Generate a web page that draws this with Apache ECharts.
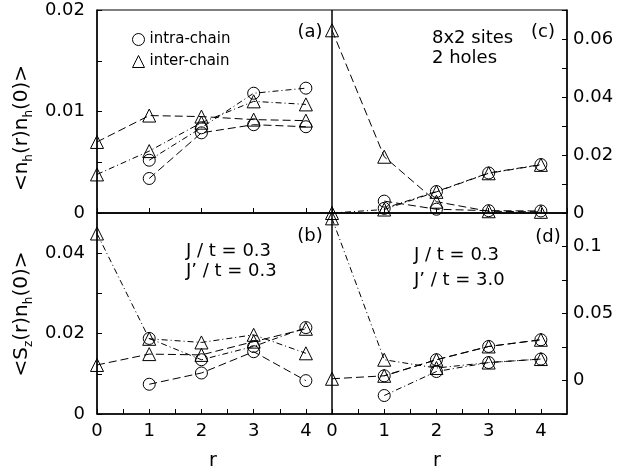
<!DOCTYPE html>
<html>
<head>
<meta charset="utf-8">
<script src="https://cdn.jsdelivr.net/npm/echarts@6/dist/echarts.min.js"></script>
<style>html,body{margin:0;padding:0;background:#fff;}#c{width:620px;height:472px;}</style>
</head>
<body>
<div id="c"></div>
<script>
// ---- data ----
const rVals = [0, 1, 2, 3, 4];
const xTickLabels = ['0', '1', '2', '3', '4'];
// panel (a): <n_h(r) n_h(0)>, J'/t = 0.3
const aInterA = [0.0070, 0.0096, 0.0095, 0.0092, 0.0091];
const aInterB = [0.0038, 0.0061, 0.0089, 0.0110, 0.0107];
const aIntraA = [null, 0.0034, 0.0079, 0.0087, 0.0085];
const aIntraB = [null, 0.0052, 0.0084, 0.0118, 0.0123];
// panel (b): <S_z(r) n_h(0)>, J'/t = 0.3
const bInterA = [0.0449, 0.0187, 0.0178, 0.0197, 0.0151];
const bIntraA = [null, 0.0188, 0.0135, 0.0168, 0.0215];
const bInterB = [0.0122, 0.0149, 0.0147, 0.0180, 0.0212];
const bIntraB = [null, 0.0074, 0.0102, 0.0155, 0.0083];
// panel (c): <n_h(r) n_h(0)>, J'/t = 3.0
const cInterA = [0.0630, 0.0194, 0.0039, 0.0006, 0.0004];
const cIntraA = [null, 0.0041, 0.0013, 0.0008, 0.0007];
const cInterB = [0.0000, 0.0012, 0.0073, 0.0137, 0.0166];
const cIntraB = [null, 0.0016, 0.0074, 0.0138, 0.0167];
// panel (d): <S_z(r) n_h(0)>, J'/t = 3.0
const dInterA = [0.1210, 0.0155, 0.0093, 0.0134, 0.0160];
const dIntraA = [null, -0.0112, 0.0067, 0.0134, 0.0160];
const dInterB = [0.0013, 0.0035, 0.0155, 0.0254, 0.0304];
const dIntraB = [null, 0.0035, 0.0155, 0.0254, 0.0304];

const FONT = 'DejaVu Sans';
const LONG_DASH = [8, 4];
const DASH_DOT = [6, 3, 1, 3];

function pts(arr) {
  const out = [];
  rVals.forEach((r, i) => { if (arr[i] !== null) out.push([r, arr[i]]); });
  return out;
}
function ser(name, arr, grid, dash, offset) {
  return {
    type: 'line', name: name, xAxisIndex: grid, yAxisIndex: grid,
    data: pts(arr),
    symbol: name === 'intra-chain' ? 'circle' : 'triangle',
    symbolSize: name === 'intra-chain' ? 12 : 13,
    itemStyle: { color: 'transparent', borderColor: '#000', borderWidth: 1 },
    lineStyle: { color: '#000', width: 1, type: dash, dashOffset: offset || 0 },
    emphasis: { disabled: true },
    animation: false
  };
}
function isMult(v, step) {
  const q = v / step;
  return Math.abs(q - Math.round(q)) < 1e-6;
}
function yFmt(step) {
  return function (v) {
    if (!isMult(v, step)) return '';
    if (Math.abs(v) < 1e-9) return '0';
    return String(+v.toFixed(3));
  };
}
function xAxis(grid, showLabels, interval) {
  return {
    type: 'value', gridIndex: grid, min: 0, max: 4.5, interval: interval,
    axisLine: { show: true, onZero: false, lineStyle: { color: '#000', width: 1.5 } },
    axisTick: { show: true, inside: true, length: 5, lineStyle: { color: '#000' } },
    splitLine: { show: false },
    axisLabel: {
      show: showLabels, margin: 8, fontFamily: FONT, fontSize: 18, color: '#000',
      formatter: function (v) { return isMult(v, 1) ? xTickLabels[Math.round(v)] : ''; },
      showMaxLabel: false
    }
  };
}
function yAxis(grid, pos, min, max, interval, labelStep, margin) {
  return {
    type: 'value', gridIndex: grid, position: pos, min: min, max: max, interval: interval,
    axisLine: { show: true, onZero: false, lineStyle: { color: '#000', width: 1.5 } },
    axisTick: { show: true, inside: true, length: 5, lineStyle: { color: '#000' } },
    splitLine: { show: false },
    axisLabel: { margin: margin, fontFamily: FONT, fontSize: 18, color: '#000', formatter: yFmt(labelStep) }
  };
}

const gridStyle = { show: true, borderColor: '#000', borderWidth: 1, containLabel: false };
const option = {
  backgroundColor: '#fff',
  animation: false,
  grid: [
    Object.assign({ left: 97, top: 10, width: 235, height: 203 }, gridStyle),
    Object.assign({ left: 97, top: 213, width: 235, height: 201 }, gridStyle),
    Object.assign({ left: 332, top: 10, width: 235, height: 203 }, gridStyle),
    Object.assign({ left: 332, top: 213, width: 235, height: 201 }, gridStyle)
  ],
  xAxis: [
    xAxis(0, false, 1),
    Object.assign(xAxis(1, true, 0.5), { name: 'r', nameLocation: 'middle', nameGap: 38,
      nameTextStyle: { fontFamily: FONT, fontSize: 19, color: '#000', padding: [0, 3, 0, 0] } }),
    xAxis(2, false, 1),
    Object.assign(xAxis(3, true, 0.5), { name: 'r', nameLocation: 'middle', nameGap: 38,
      nameTextStyle: { fontFamily: FONT, fontSize: 19, color: '#000', padding: [0, 25, 0, 0] } })
  ],
  yAxis: [
    yAxis(0, 'left', 0, 0.02, 0.005, 0.01, 12),
    yAxis(1, 'left', 0, 0.05, 0.01, 0.02, 12),
    yAxis(2, 'right', 0, 0.07, 0.01, 0.02, 6),
    yAxis(3, 'right', -0.025, 0.125, 0.025, 0.05, 6)
  ],
  legend: {
    orient: 'vertical', left: 132, top: 32, padding: 0, itemWidth: 12, itemHeight: 12, itemGap: 7,
    selectedMode: false,
    textStyle: { fontFamily: FONT, fontSize: 15, color: '#000' },
    itemStyle: { color: 'transparent', borderColor: '#000', borderWidth: 1 },
    data: [{ name: 'intra-chain', icon: 'circle' }, { name: 'inter-chain', icon: 'triangle' }]
  },
  graphic: [
    { type: 'text', x: 310, y: 32, style: { text: '(a)', font: '18px "DejaVu Sans"', fill: '#000', align: 'center', verticalAlign: 'middle' } },
    { type: 'text', x: 310, y: 236, style: { text: '(b)', font: '18px "DejaVu Sans"', fill: '#000', align: 'center', verticalAlign: 'middle' } },
    { type: 'text', x: 543, y: 32, style: { text: '(c)', font: '18px "DejaVu Sans"', fill: '#000', align: 'center', verticalAlign: 'middle' } },
    { type: 'text', x: 548, y: 237, style: { text: '(d)', font: '18px "DejaVu Sans"', fill: '#000', align: 'center', verticalAlign: 'middle' } },
    { type: 'text', x: 432, y: 38, style: { text: '8x2 sites', font: '18px "DejaVu Sans"', fill: '#000', align: 'left', verticalAlign: 'middle' } },
    { type: 'text', x: 432, y: 58, style: { text: '2 holes', font: '18px "DejaVu Sans"', fill: '#000', align: 'left', verticalAlign: 'middle' } },
    { type: 'text', x: 186, y: 251, style: { text: 'J / t = 0.3', font: '18px "DejaVu Sans"', fill: '#000', align: 'left', verticalAlign: 'middle' } },
    { type: 'text', x: 186, y: 271, style: { text: 'J\u2019 / t = 0.3', font: '18px "DejaVu Sans"', fill: '#000', align: 'left', verticalAlign: 'middle' } },
    { type: 'text', x: 414, y: 255, style: { text: 'J / t = 0.3', font: '18px "DejaVu Sans"', fill: '#000', align: 'left', verticalAlign: 'middle' } },
    { type: 'text', x: 414, y: 280, style: { text: 'J\u2019 / t = 3.0', font: '18px "DejaVu Sans"', fill: '#000', align: 'left', verticalAlign: 'middle' } },
    { type: 'text', x: 22, y: 128, rotation: Math.PI / 2,
      style: { text: '{m|<n}{s|h}{m|(r)n}{s|h}{m|(0)>}', align: 'center', verticalAlign: 'middle', fill: '#000',
        rich: { m: { fontFamily: FONT, fontSize: 20, lineHeight: 26, verticalAlign: 'middle', fill: '#000' },
                s: { fontFamily: FONT, fontSize: 12, lineHeight: 12, verticalAlign: 'bottom', fill: '#000' } } } },
    { type: 'text', x: 22, y: 314, rotation: Math.PI / 2,
      style: { text: '{m|<S}{s|z}{m|(r)n}{s|h}{m|(0)>}', align: 'center', verticalAlign: 'middle', fill: '#000',
        rich: { m: { fontFamily: FONT, fontSize: 20, lineHeight: 26, verticalAlign: 'middle', fill: '#000' },
                s: { fontFamily: FONT, fontSize: 12, lineHeight: 12, verticalAlign: 'bottom', fill: '#000' } } } }
  ],
  series: [
    ser('inter-chain', aInterA, 0, LONG_DASH),
    ser('inter-chain', aInterB, 0, DASH_DOT),
    ser('intra-chain', aIntraA, 0, LONG_DASH),
    ser('intra-chain', aIntraB, 0, DASH_DOT),
    ser('inter-chain', bInterA, 1, DASH_DOT),
    ser('intra-chain', bIntraA, 1, DASH_DOT),
    ser('inter-chain', bInterB, 1, LONG_DASH),
    ser('intra-chain', bIntraB, 1, LONG_DASH),
    ser('inter-chain', cInterA, 2, LONG_DASH),
    ser('intra-chain', cIntraA, 2, LONG_DASH),
    ser('inter-chain', cInterB, 2, DASH_DOT),
    ser('intra-chain', cIntraB, 2, DASH_DOT, 4.3),
    ser('inter-chain', dInterA, 3, DASH_DOT),
    ser('intra-chain', dIntraA, 3, DASH_DOT),
    ser('inter-chain', dInterB, 3, LONG_DASH),
    ser('intra-chain', dIntraB, 3, LONG_DASH, 4.3)
  ]
};
const chart = echarts.init(document.getElementById('c'), null, { renderer: 'canvas' });
chart.setOption(option);
</script>
</body>
</html>
